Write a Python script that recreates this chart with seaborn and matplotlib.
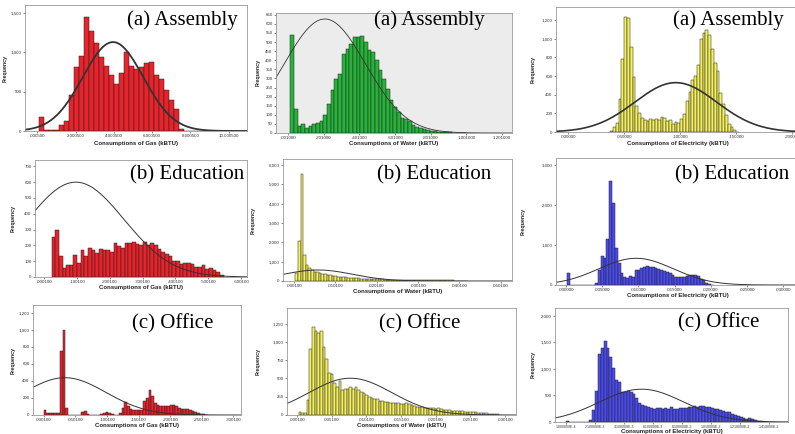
import numpy as np
import pandas as pd
import matplotlib
matplotlib.use("Agg")
import matplotlib.pyplot as plt
from matplotlib.ticker import FuncFormatter
import seaborn as sns

sns.set_style("white")
plt.rcParams['font.family'] = ['Liberation Sans', 'DejaVu Sans']

# ---------------- data (x in tick-index units, counts per bin) ----------------
titles = ["(a) Assembly", "(a) Assembly", "(a) Assembly",
          "(b) Education", "(b) Education", "(b) Education",
          "(c) Office", "(c) Office", "(c) Office"]
xlabels = ["Consumptions of Gas (kBTU)", "Consumptions of Water (kBTU)", "Consumptions of Electricity (kBTU)"] * 3

xtick_labels = [
    [".000500", "2.000500", "4.000500", "6.000500", "8.000500", "10.000500"],
    [".001000", ".201000", ".401000", ".601000", ".801000", "1.001000", "1.201000"],
    [".000000", ".050000", ".100000", ".150000", ".200000"],
    [".000100", ".100100", ".200100", ".300100", ".400100", ".500100", ".600100"],
    [".000100", ".010100", ".020100", ".030100", ".040100", ".050100"],
    [".000000", ".005000", ".010000", ".015000", ".020000", ".025000", ".030000"],
    [".000100", ".050100", ".100100", ".150100", ".200100", ".250100", ".300100"],
    [".000100", ".005100", ".010100", ".015100", ".020100", ".025100", ".030100"],
    ["1.000000E-4", "2.100000E-3", "4.100000E-3", "6.100000E-3", "8.100000E-3",
     "1.010000E-2", "1.210000E-2", "1.410000E-2"],
]
ytick_values = [
    [0, 500, 1000, 1500],
    list(range(0, 651, 50)),
    list(range(0, 1201, 200)),
    list(range(0, 701, 100)),
    list(range(0, 6001, 1000)),
    list(range(0, 3001, 1000)),
    list(range(0, 1201, 200)),
    list(range(0, 1251, 250)),
    list(range(0, 2001, 500)),
]

gas_assembly = [180, 15, 8, 15, 80, 130, 460, 810, 950, 1450, 1270, 1120, 935, 830, 715,
                600, 730, 1005, 820, 790, 815, 865, 880, 705, 655, 525, 390, 275, 30,
                0, 0, 0, 0, 0, 0, 0, 0, 0, 0, 0, 0, 0, 0, 0, 0, 0, 5, 0]
water_assembly = [538, 130, 38, 51, 28, 40, 50, 57, 68, 101, 162, 235, 298, 323, 432, 461,
                  489, 526, 529, 533, 502, 456, 443, 404, 346, 296, 241, 184, 143, 116, 81,
                  75, 66, 42, 33, 28, 22, 17, 13, 9, 7, 5, 4, 3, 2, 2, 1, 1]
elec_assembly = [10, 50, 100, 350, 780, 1240, 1220, 910, 590, 280, 200, 150, 130, 120, 140,
                 130, 135, 130, 160, 145, 115, 130, 85, 110, 100, 140, 190, 330, 430, 560,
                 600, 720, 1000, 1060, 1090, 1040, 890, 740, 660, 420, 300, 180, 90, 50, 20, 5]
gas_education = [250, 300, 135, 60, 75, 75, 140, 90, 170, 135, 185, 170, 150, 175, 170, 170,
                 155, 215, 195, 185, 215, 215, 220, 210, 205, 220, 205, 215, 200, 175, 160,
                 145, 135, 100, 100, 85, 90, 90, 80, 65, 65, 75, 50, 55, 45, 30, 10]
water_education = [400, 2080, 5550, 1350, 850, 650, 560, 480, 450, 420, 380, 340, 320, 290,
                   270, 250, 230, 210, 200, 185, 175, 165, 150, 140, 135, 125, 120, 110, 105,
                   100, 95, 90, 85, 80, 75, 70, 68, 65, 60, 58, 55, 52, 50, 48, 46, 44, 42,
                   40, 38, 36, 35, 34, 33, 32, 31, 30, 30, 29, 28, 27, 26, 25, 22, 18, 12, 6]
elec_education = [300, 0, 0, 0, 0, 0, 0, 0, 0, 0,
                  50, 380, 730, 680, 1150, 2600, 2050, 920, 550, 300, 200, 180, 230, 210,
                  370, 380, 420, 460, 480, 460, 440, 430, 410, 380, 350, 320, 300, 250, 210,
                  200, 210, 190, 220, 260, 250, 250, 230, 160, 120, 60, 30, 10]
gas_office = [55, 25, 22, 22, 22, 28, 750, 1000, 80, 0, 0, 0, 0, 0, 30, 50, 15, 5, 0, 0,
              5, 10, 20, 40, 25, 10, 5, 5, 20, 80, 150, 100, 70, 60, 55, 55, 60, 170, 200,
              290, 220, 140, 120, 110, 105, 100, 100, 120, 115, 100, 85, 75, 65, 65, 60, 45,
              35, 25, 15, 8, 4]
water_office = [35, 30, 25, 200, 900, 1200, 1150, 1120, 1150, 930, 760, 580, 560, 440, 390,
                460, 340, 350, 360, 390, 350, 380, 340, 320, 300, 280, 250, 230, 220, 215,
                195, 190, 180, 175, 165, 170, 160, 170, 150, 155, 160, 145, 140, 125, 115,
                110, 105, 100, 100, 90, 95, 85, 90, 80, 75, 70, 65, 60, 55, 55, 50, 50, 45,
                40, 40, 38, 35, 30, 28, 25, 22, 18, 15, 12, 8]
elec_office = [20, 0, 0, 0, 0, 0, 0, 0,
               30, 230, 580, 1280, 1400, 1530, 1400, 1220, 1010, 790, 760, 570, 560, 590,
               570, 530, 450, 360, 320, 310, 280, 270, 250, 270, 260, 250, 260, 250, 280,
               250, 250, 270, 260, 270, 280, 290, 300, 290, 310, 300, 290, 280, 270, 250,
               240, 230, 200, 190, 180, 150, 130, 110, 90, 70, 50, 80, 60, 30, 20, 10, 5]
counts = [gas_assembly, water_assembly, elec_assembly,
          gas_education, water_education, elec_education,
          gas_office, water_office, elec_office]

bin_start = [0.052, 0.065, 0.75, 0.223, 0.032, 0.019, 0.0, 0.048, 0.0]
bin_width = [0.1304, 0.103, 0.05, 0.1117, 0.063, 0.0783, 0.085, 0.077, 0.1]

# fitted normal curves: mean, sd (tick-index units), peak frequency
curve_mean = [1.98, 1.03, 1.92, 0.964, 0.58, 1.935, 0.667, 1.54, 2.61]
curve_sd = [0.79, 1.14, 0.73, 1.47, 0.84, 1.03, 1.30, 1.20, 1.46]
curve_peak = [1127, 627, 530, 600, 570, 668, 439, 504, 618]

# ---------------- layout / style ----------------
W, H = 795, 434
rects = [(25, 5, 247, 131), (276, 13, 512, 133), (556, 7, 800, 132),
         (35, 160, 247, 277), (283, 159, 512, 281), (556, 158, 800, 285),
         (33, 305, 241, 415), (287, 308, 516, 415), (555, 308, 788, 422)]
xlims = [(-0.32, 5.48), (-0.34, 6.28), (-0.22, 4.14),
         (-0.28, 6.18), (-0.266, 5.27), (-0.28, 6.47),
         (-0.34, 6.24), (-0.29, 6.32), (-0.38, 7.67)]
ylims = [1597, 660, 1342, 740, 6310, 3175, 1294, 1465, 2146]
colors = ["#e8232b", "#27b33a", "#f4f060", "#e8232b", "#f4f060", "#4b4cef",
          "#e8232b", "#f4f060", "#4b4cef"]
bg = ["white", "#ececec", "white", "white", "white", "white", "white", "white", "white"]
curve_lw = [1.3, 0.6, 1.2, 0.7, 0.7, 0.7, 0.7, 0.7, 0.7]
title_pos = [(238, 25), (485, 25), (784, 25), (244, 179), (491, 179), (789, 179),
             (213, 328), (460, 328), (759, 327)]
ylabel_x = [5, 258, 533, 13, 253, 523, 13, 258, 533]
xlabel_y = [143, 144, 144, 288, 292, 296, 426, 425, 431]
xtick_size = [3.2, 3.2, 3.2, 3.2, 3.2, 3.2, 3.2, 3.2, 2.5]

fig = plt.figure(figsize=(W / 100, H / 100), dpi=100)
fig.patch.set_facecolor("white")

for i in range(9):
    l, t, r, b = rects[i]
    ax = fig.add_axes([l / W, 1 - b / H, (r - l) / W, (b - t) / H])
    ax.set_facecolor(bg[i])
    c = np.asarray(counts[i], dtype=float)
    n = len(c)
    w = bin_width[i]
    x0 = bin_start[i]
    centers = x0 + (np.arange(n) + 0.5) * w
    df = pd.DataFrame({"x": centers, "w": c})
    sns.histplot(data=df, x="x", weights="w", binwidth=w,
                 binrange=(x0, x0 + n * w - 0.01 * w), ax=ax, color=colors[i],
                 edgecolor="#222222", linewidth=0.35, alpha=1.0)
    xs = np.linspace(xlims[i][0], xlims[i][1], 400)
    ys = curve_peak[i] * np.exp(-0.5 * ((xs - curve_mean[i]) / curve_sd[i]) ** 2)
    sns.lineplot(x=xs, y=ys, ax=ax, color="#333333", linewidth=curve_lw[i])
    ax.set_xlim(*xlims[i])
    ax.set_ylim(0, ylims[i])
    ax.set_xticks(range(len(xtick_labels[i])))
    ax.set_xticklabels(xtick_labels[i])
    ax.set_yticks(ytick_values[i])
    ax.yaxis.set_major_formatter(FuncFormatter(lambda v, p: f"{v:,.0f}"))
    ax.tick_params(axis="both", which="major", labelsize=3.2, length=1.5, width=0.4,
                   pad=1, colors="#333333", direction="out")
    ax.tick_params(axis="x", labelsize=xtick_size[i])
    ax.tick_params(left=True, bottom=True)
    for s in ax.spines.values():
        s.set_color("#999999")
        s.set_linewidth(0.6)
    ax.set_xlabel(xlabels[i], fontsize=4.3, fontweight="bold", color="#222222")
    ax.set_ylabel("Frequency", fontsize=3.8, fontweight="bold", color="#222222")
    ax.yaxis.set_label_coords((ylabel_x[i] - l) / (r - l), 0.5)
    ax.xaxis.set_label_coords(0.5, (b - xlabel_y[i]) / (b - t))
    ax.xaxis.label.set_va("center")
    ax.yaxis.label.set_va("center")
    tx, ty = title_pos[i]
    fig.text(tx / W, 1 - ty / H, titles[i], ha="right", va="baseline",
             fontsize=15, family="Liberation Serif", color="black")

fig.savefig("out.png", dpi=100, facecolor="white")
